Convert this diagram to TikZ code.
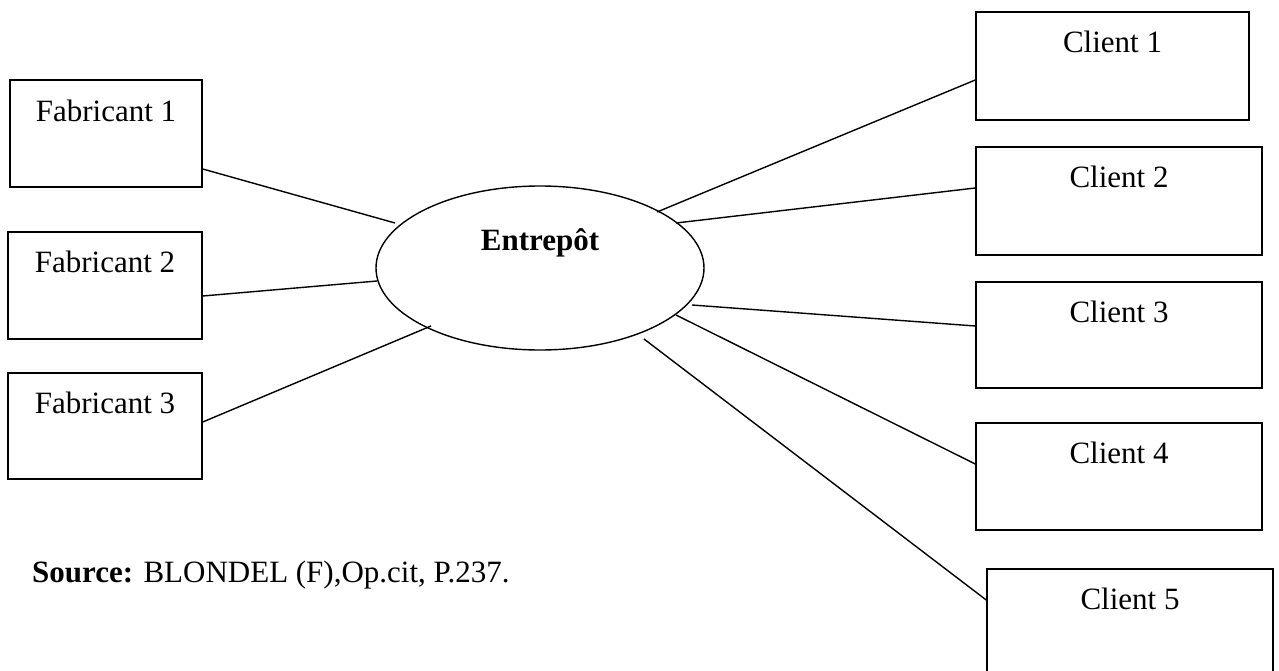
\documentclass[tikz,border=0pt]{standalone}
\usepackage{fontspec}
\setmainfont{Liberation Serif}
\usetikzlibrary{shapes.geometric}
\begin{document}
\begin{tikzpicture}[x=1pt,y=-1pt,
  box/.style={draw, line width=1.5pt, rectangle, inner sep=0pt},
  lbl/.style={anchor=base, inner sep=0pt, font=\fontsize{31}{37}\selectfont},
  link/.style={line width=1.4pt}]
\clip (0,0) rectangle (1279,671);
\useasboundingbox (0,0) rectangle (1279,671);

% suppliers
\node[box, minimum width=192pt, minimum height=107pt] (F1) at (106,133.5) {};
\node[box, minimum width=194pt, minimum height=107pt] (F2) at (105,285.5) {};
\node[box, minimum width=194pt, minimum height=106pt] (F3) at (105,426) {};
\node[lbl] (tF1) at (106,122) {Fabricant 1};
\node[lbl] (tF2) at (105,272) {Fabricant 2};
\node[lbl] (tF3) at (105,413) {Fabricant 3};

% warehouse
\node[draw, line width=1.4pt, ellipse, minimum width=328pt, minimum height=164pt, inner sep=0pt] (W) at (540,268) {};
\node[lbl, font=\fontsize{31}{37}\selectfont\bfseries] (tW) at (540,250) {Entrepôt};

% customers
\node[box, minimum width=273pt, minimum height=108pt] (C1) at (1112.5,66) {};
\node[box, minimum width=286pt, minimum height=108pt] (C2) at (1119,201) {};
\node[box, minimum width=286pt, minimum height=106pt] (C3) at (1119,335) {};
\node[box, minimum width=286pt, minimum height=107pt] (C4) at (1119,476.5) {};
\node[box, minimum width=286pt, minimum height=108pt] (C5) at (1130,623) {};
\node[lbl] (tC1) at (1112.5,53) {Client 1};
\node[lbl] (tC2) at (1119,188) {Client 2};
\node[lbl] (tC3) at (1119,322) {Client 3};
\node[lbl] (tC4) at (1119,463) {Client 4};
\node[lbl] (tC5) at (1130,609) {Client 5};

% loose ends of the links near the warehouse
\coordinate (wf1) at (395,223);
\coordinate (wf2) at (377,281);
\coordinate (wf3) at (431,326);
\coordinate (wc1) at (657,212);
\coordinate (wc2) at (676,223);
\coordinate (wc3) at (692,305);
\coordinate (wc4) at (676,315);
\coordinate (wc5) at (644,339);

\draw[link] ([yshift=-35.5pt]F1.east) -- (wf1);
\draw[link] ([yshift=-10.5pt]F2.east) -- (wf2);
\draw[link] ([yshift=4pt]F3.east) -- (wf3);
\draw[link] (wc1) -- ([yshift=-14pt]C1.west);
\draw[link] (wc2) -- ([yshift=13pt]C2.west);
\draw[link] (wc3) -- ([yshift=9pt]C3.west);
\draw[link] (wc4) -- ([yshift=12.5pt]C4.west);
\draw[link] (wc5) -- ([yshift=23pt]C5.west);

% source note
\node[lbl, anchor=base west] (src) at (32,582) {\textbf{Source:} BLONDEL (F),Op.cit, P.237.};
\end{tikzpicture}
\end{document}
